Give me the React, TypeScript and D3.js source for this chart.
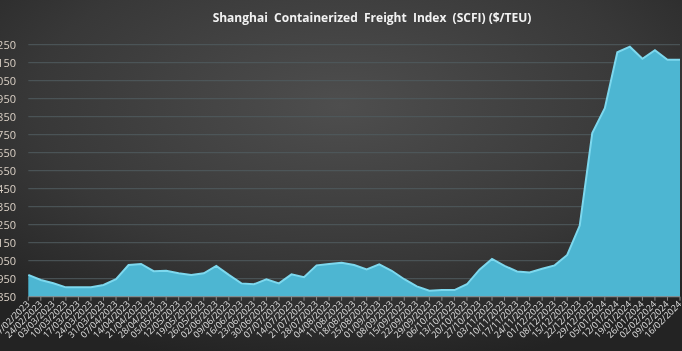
import React from "react";
import * as d3 from "d3";

const dates = [
  "17/02/2023","24/02/2023","03/03/2023","10/03/2023","17/03/2023","24/03/2023","31/03/2023",
  "07/04/2023","14/04/2023","21/04/2023","28/04/2023","05/05/2023","12/05/2023","19/05/2023",
  "26/05/2023","02/06/2023","09/06/2023","16/06/2023","23/06/2023","30/06/2023","07/07/2023",
  "14/07/2023","21/07/2023","28/07/2023","04/08/2023","11/08/2023","18/08/2023","25/08/2023",
  "01/09/2023","08/09/2023","15/09/2023","22/09/2023","29/09/2023","06/10/2023","13/10/2023",
  "20/10/2023","27/10/2023","03/11/2023","10/11/2023","17/11/2023","24/11/2023","01/12/2023",
  "08/12/2023","15/12/2023","22/12/2023","29/12/2023","05/01/2024","12/01/2024","19/01/2024",
  "26/01/2024","02/02/2024","09/02/2024","16/02/2024",
];

const values = [
  971, 943, 925, 902, 903, 903, 915, 947, 1026, 1032, 992, 994, 980, 971, 980, 1021, 971, 924,
  919, 947, 924, 974, 958, 1024, 1032, 1039, 1026, 1002, 1030, 994, 947, 907, 883, 887, 887,
  919, 1000, 1060, 1021, 990, 984, 1005, 1024, 1082, 1245, 1759, 1897, 2208, 2239, 2172, 2219,
  2166, 2166,
];

const yTicks = [850, 950, 1050, 1150, 1250, 1350, 1450, 1550, 1650, 1750, 1850, 1950, 2050, 2150, 2250];

const title = "Shanghai  Containerized  Freight  Index  (SCFI) ($/TEU)";

export default function App() {
  const W = 682;
  const H = 351;
  const left = 28.3;
  const right = 680;
  const top = 44.7;
  const bottom = 296.7;

  const x = d3.scalePoint<string>().domain(dates).range([left, right]);
  const y = d3.scaleLinear().domain([850, 2250]).range([bottom, top]);

  const data = dates.map((d, i) => ({ d, v: values[i] }));
  const area = d3
    .area<{ d: string; v: number }>()
    .x((p) => x(p.d) as number)
    .y0(bottom)
    .y1((p) => y(p.v));
  const line = d3
    .line<{ d: string; v: number }>()
    .x((p) => x(p.d) as number)
    .y((p) => y(p.v));

  return (
    <svg
      width={W}
      height={H}
      style={{ position: "fixed", left: 0, top: 0, display: "block" }}
      fontFamily="'Open Sans', 'DejaVu Sans', sans-serif"
    >
      <defs>
        <radialGradient id="bg" cx="0.5" cy="0.3" r="0.75">
          <stop offset="0" stopColor="#4e4e4e" />
          <stop offset="0.6" stopColor="#383838" />
          <stop offset="1" stopColor="#232323" />
        </radialGradient>
      </defs>
      <rect width={W} height={H} fill="url(#bg)" />
      <text
        x={372}
        y={22}
        textAnchor="middle"
        fill="#f2f2f2"
        fontSize={12}
        fontWeight="bold"
        style={{ whiteSpace: "pre" }}
      >
        {title}
      </text>
      {yTicks.map((t) => (
        <g key={t}>
          <line x1={left} x2={right} y1={y(t)} y2={y(t)} stroke="#4f5a5e" strokeWidth={1} />
          <text x={16} y={y(t) + 4} textAnchor="end" fill="#d9cfc4" fontSize={11}>
            {t}
          </text>
        </g>
      ))}
      <path d={area(data) ?? ""} fill="#4db6d2" />
      <path d={line(data) ?? ""} fill="none" stroke="#7dd8ee" strokeWidth={2} />
      <line x1={left} x2={right} y1={bottom} y2={bottom} stroke="#8a8a8a" strokeWidth={1} />
      {dates.map((d) => {
        const xp = x(d) as number;
        return (
          <g key={d}>
            <line x1={xp} x2={xp} y1={bottom} y2={bottom + 4} stroke="#8a8a8a" />
            <text
              transform={`translate(${xp + 2},${bottom + 8}) rotate(-45)`}
              textAnchor="end"
              fill="#e0e0e0"
              fontSize={9}
            >
              {d}
            </text>
          </g>
        );
      })}
    </svg>
  );
}
